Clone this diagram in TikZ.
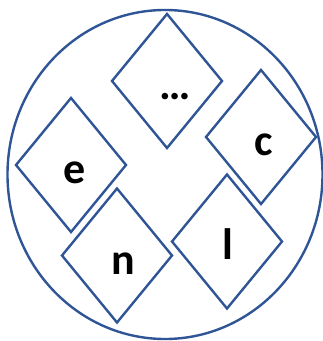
\documentclass[tikz,border=0pt]{standalone}
\usepackage{fontspec}
\setmainfont{Carlito}
\usepackage{xcolor}
\usepackage{tikz}
\usetikzlibrary{shapes.geometric}
\definecolor{RingBlue}{RGB}{47, 85, 151}

\begin{document}
\begin{tikzpicture}[x=0.75pt, y=-0.75pt,
    tile/.style={draw=RingBlue, line width=1.8pt, shape=diamond, inner sep=0pt,
                 minimum width=83.25pt, minimum height=101.25pt},
    glyph/.style={anchor=base, inner sep=0pt,
                  font=\fontsize{33}{40}\selectfont\bfseries}]
        \useasboundingbox (0,0) rectangle (323,341);
        % outer ring
        \draw[RingBlue, line width=1.8pt] (165,174.5) ellipse [x radius=157.5, y radius=164.5];
        % tiles
        \node[tile] (tdots) at (167,81) {};
        \node[tile] (tc) at (261,137) {};
        \node[tile] (te) at (71,165) {};
        \node[tile] (tn) at (117,255.5) {};
        \node[tile] (tl) at (227,241.5) {};
        % letters
        \node[glyph] (ldots) at ([shift={(8.5,19)}]tdots.center) {…};
        \node[glyph] (lc) at ([shift={(2.7,19)}]tc.center) {c};
        \node[glyph] (le) at ([shift={(3.5,19)}]te.center) {e};
        \node[glyph] (ln) at ([shift={(6,18.5)}]tn.center) {n};
        \node[glyph] (ll) at ([shift={(0.5,17.5)}]tl.center) {l};
      \end{tikzpicture}
\end{document}
